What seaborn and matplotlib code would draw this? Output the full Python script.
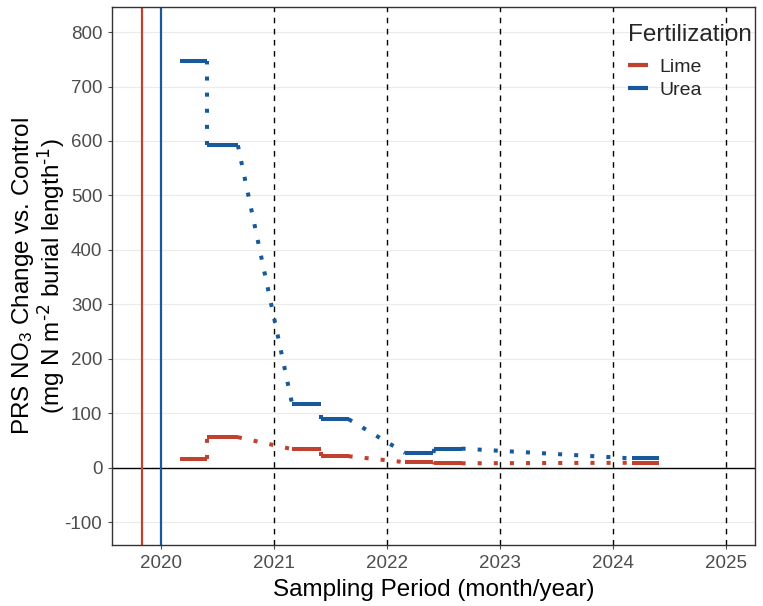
import numpy as np
import pandas as pd
import matplotlib
matplotlib.use("Agg")
import matplotlib.pyplot as plt
import seaborn as sns

# ---- data ----
fertilization = ["Lime", "Urea"]
period_start = [2020.17, 2020.41, 2021.16, 2021.42, 2022.16, 2022.42, 2024.17]
period_end = [2020.41, 2020.68, 2021.42, 2021.66, 2022.41, 2022.66, 2024.41]
lime_values = [15, 56, 34, 21, 10, 8, 9]
urea_values = [747, 592, 117, 89, 27, 35, 17]
year_ticks = [2020, 2021, 2022, 2023, 2024, 2025]
y_ticks = [-100, 0, 100, 200, 300, 400, 500, 600, 700, 800]
lime_application = 2019.83
urea_application = 2020.0
colors = {"Lime": "#C0412D", "Urea": "#17599B"}

# ---- build tables ----
values = {"Lime": lime_values, "Urea": urea_values}
seg_rows, con_rows = [], []
for f in fertilization:
    v = values[f]
    for i in range(len(period_start)):
        seg_rows.append((f, f"{f}{i}", period_start[i], v[i]))
        seg_rows.append((f, f"{f}{i}", period_end[i], v[i]))
        if i + 1 < len(period_start):
            con_rows.append((f, f"{f}c{i}", period_end[i], v[i]))
            con_rows.append((f, f"{f}c{i}", period_start[i + 1], v[i + 1]))
seg = pd.DataFrame(seg_rows, columns=["Fertilization", "unit", "x", "y"])
con = pd.DataFrame(con_rows, columns=["Fertilization", "unit", "x", "y"])

sns.set_theme(style="white")
plt.rcParams["font.family"] = ["Liberation Sans", "DejaVu Sans"]
plt.rcParams["mathtext.default"] = "regular"
plt.rcParams["axes.unicode_minus"] = False

fig = plt.figure(figsize=(7.63, 6.06), dpi=100)
ax = fig.add_axes([0.1468, 0.1007, 0.8427, 0.8877])

ax.set_xlim(2019.566, 2025.257)
ax.set_ylim(-142, 846)
for t in y_ticks:
    ax.axhline(t, color="#EBEBEB", lw=0.8, zorder=0)
for yr in year_ticks[1:]:
    ax.axvline(yr, color="black", lw=1.0, ls=(0, (4, 4)), zorder=1)
ax.axhline(0, color="black", lw=1.0, zorder=1)
ax.axvline(lime_application, color=colors["Lime"], lw=1.6, zorder=1)
ax.axvline(urea_application, color=colors["Urea"], lw=1.6, zorder=1)

sns.lineplot(data=con, x="x", y="y", hue="Fertilization", units="unit",
             estimator=None, palette=colors, lw=2.9, legend=False, ax=ax,
             dashes=False, zorder=3)
for line in ax.get_lines()[-2 * (len(period_start) - 1):]:
    line.set_linestyle((0, (1, 3)))
    line.set_dash_capstyle("butt")

sns.lineplot(data=seg, x="x", y="y", hue="Fertilization", units="unit",
             estimator=None, palette=colors, lw=2.9, ax=ax, zorder=4)
for line in ax.get_lines():
    line.set_solid_capstyle("butt")

ax.set_xticks(year_ticks)
ax.set_xticklabels([str(y) for y in year_ticks])
ax.set_yticks(y_ticks)
ax.tick_params(axis="both", colors="#4D4D4D", labelsize=13.5, length=3,
               width=0.8, bottom=True, left=True, pad=4)
for s in ax.spines.values():
    s.set_color("#333333")
    s.set_linewidth(1.0)

ax.set_xlabel("Sampling Period (month/year)", fontsize=17.5, color="black", labelpad=5)
ax.set_ylabel("PRS NO$_3$ Change vs. Control\n(mg N m$^{\\text{-2}}$ burial length$^{\\text{-1}}$)",
              fontsize=17.5, color="black", labelpad=-1.5, linespacing=0.95)

leg = ax.legend(title="Fertilization", loc="upper right", frameon=False,
                fontsize=14, title_fontsize=17.5, handlelength=1.0,
                bbox_to_anchor=(1.014, 0.99), borderaxespad=0.2,
                labelspacing=0.25, handletextpad=0.6, alignment="left")
leg._legend_box.sep = 9
for h in leg.legend_handles:
    h.set_linewidth(3)

fig.savefig("out.png", dpi=100)
